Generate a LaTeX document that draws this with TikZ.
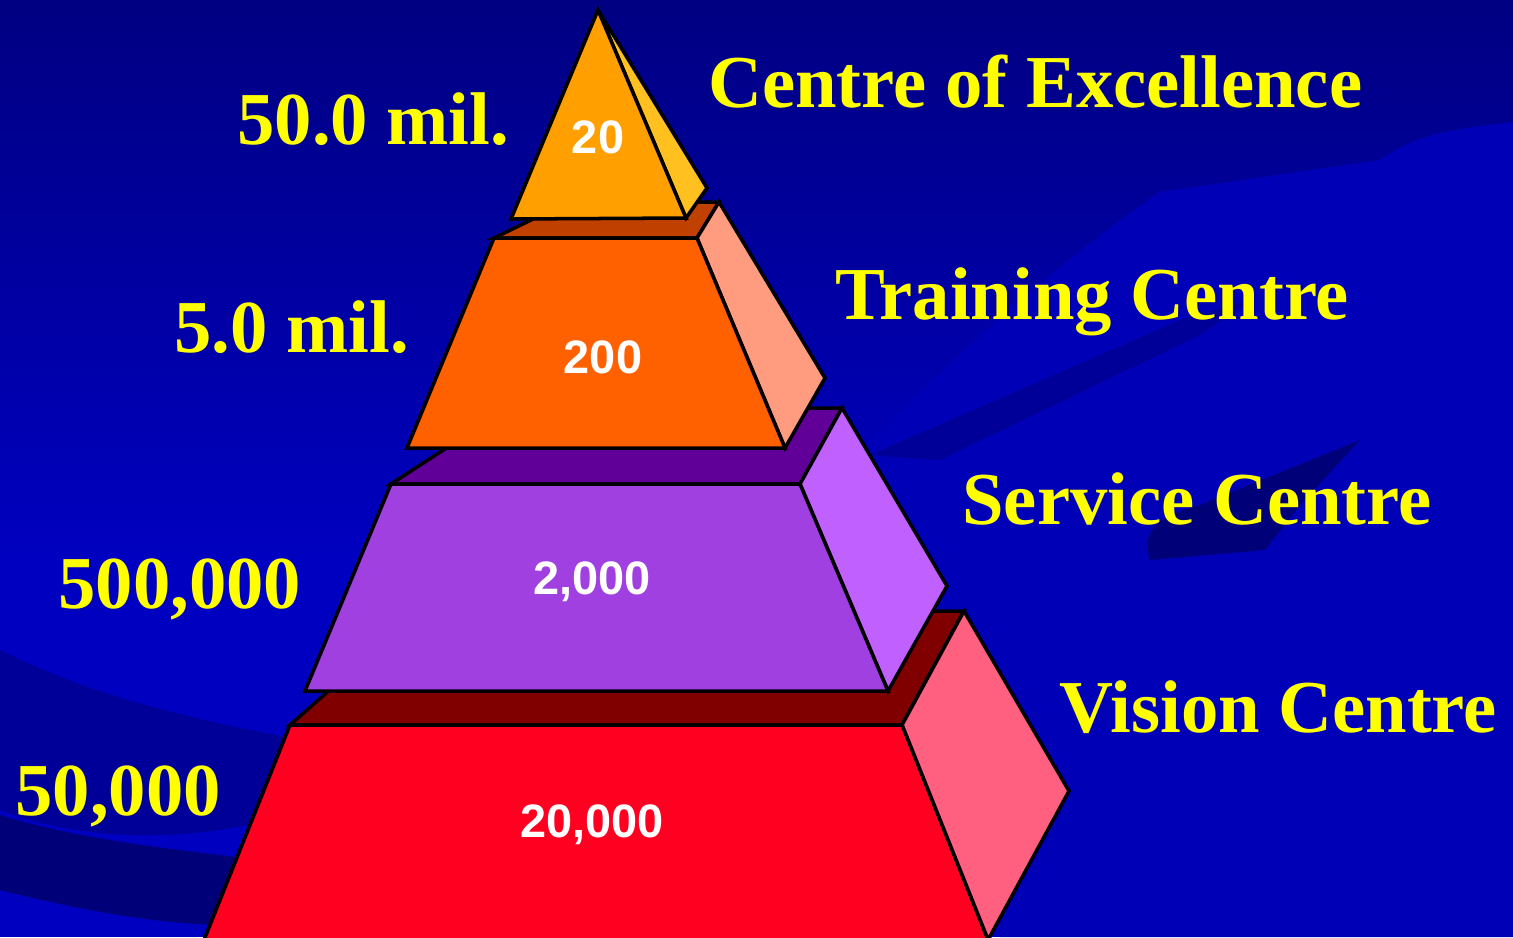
\documentclass[tikz,border=0pt]{standalone}
\usepackage{fontspec}
\setmainfont{Liberation Serif}
\newfontfamily\numfont{Liberation Sans}
\usepackage{xcolor}

\definecolor{bgtop}{HTML}{000082}
\definecolor{bgblue}{HTML}{0000C0}
\definecolor{bgshadow}{HTML}{000098}
\definecolor{bgdark}{HTML}{000078}
\definecolor{labelyellow}{HTML}{FFFF00}
\definecolor{apexfront}{HTML}{FFA000}
\definecolor{apexside}{HTML}{FFC020}
\definecolor{trainfront}{HTML}{FF6000}
\definecolor{trainside}{HTML}{FF9C80}
\definecolor{trainledge}{HTML}{C04000}
\definecolor{servfront}{HTML}{A040E0}
\definecolor{servside}{HTML}{C060FF}
\definecolor{servledge}{HTML}{600098}
\definecolor{visfront}{HTML}{FF0020}
\definecolor{visside}{HTML}{FF6080}
\definecolor{visledge}{HTML}{800000}

\begin{document}
\begin{tikzpicture}[x=0.02cm, y=-0.02cm,
  face/.style={draw=black, line width=2pt},
  costlabel/.style={text=labelyellow, font=\fontsize{42.5}{48}\selectfont\bfseries, anchor=base west, inner sep=0pt},
  centrelabel/.style={costlabel},
  countlabel/.style={text=white, font=\numfont\fontsize{26.7}{30}\selectfont\bfseries, anchor=base, inner sep=0pt}]
\useasboundingbox (0,0) rectangle (1513,937);
\clip (0,0) rectangle (1513,937);
% Draw the background
\shade[top color=bgtop, bottom color=bgblue] (0,0) rectangle (1513,560);
\fill[bgblue] (0,559) rectangle (1513,937);
\fill[bgblue!85!bgtop] (860,450) .. controls (950,360) and (1060,260) .. (1160,192)
  -- (1380,160) .. controls (1420,130) and (1470,128) .. (1513,122) -- (1513,937) -- (1000,937) -- cycle;
\fill[bgshadow] (870,455) -- (1180,320) -- (1250,300) -- (1200,335) -- (940,460) -- cycle;
\fill[bgdark] (1150,560) .. controls (1140,530) and (1160,515) .. (1200,505)
  -- (1360,440) -- (1300,505) -- (1265,550) -- cycle;
\fill[bgshadow] (0,650) .. controls (100,700) and (200,720) .. (300,740)
  -- (270,820) .. controls (150,850) and (50,830) .. (0,810) -- cycle;
\fill[bgdark] (0,815) .. controls (80,840) and (180,850) .. (260,860)
  -- (230,925) .. controls (150,925) and (60,905) .. (0,890) -- cycle;

% Draw the bottom tier (Vision Centre)
\draw[face, fill=visledge] (290,725) -- (902,725) -- (964,611) -- (419,611) -- cycle;
\draw[face, fill=visside] (902,725) -- (964,611) -- (1069,791) -- (988,940) -- cycle;
\draw[face, fill=visfront] (290,725) -- (902,725) -- (988,940) -- (204,940) -- cycle;
% Draw the third tier (Service Centre)
\draw[face, fill=servledge] (391,484) -- (800,484) -- (842,408) -- (508,408) -- cycle;
\draw[face, fill=servside] (800,484) -- (842,408) -- (947,586) -- (888,691) -- cycle;
\draw[face, fill=servfront] (391,484) -- (800,484) -- (888,691) -- (305,691) -- cycle;
% Draw the second tier (Training Centre)
\draw[face, fill=trainledge] (494,238) -- (697,238) -- (719,202) -- (568,202) -- cycle;
\draw[face, fill=trainside] (697,238) -- (719,202) -- (825,378) -- (785,448) -- cycle;
\draw[face, fill=trainfront] (494,238) -- (697,238) -- (785,448) -- (407,448) -- cycle;
% Draw the apex (Centre of Excellence)
\draw[face, fill=apexside] (598,10) -- (707,188) -- (686,218) -- cycle;
\draw[face, fill=apexfront] (598,10) -- (686,218) -- (511,219) -- cycle;

% Labels
\node[countlabel] (apexcount) at (598,153) {20};
\node[countlabel] (traincount) at (603,373) {200};
\node[countlabel] (servcount) at (592,594) {2,000};
\node[countlabel] (viscount) at (592,837) {20,000};
\node[centrelabel] (apexname) at (708,107) {Centre of Excellence};
\node[centrelabel] (trainname) at (835,319) {Training Centre};
\node[centrelabel] (servname) at (962,524) {Service Centre};
\node[centrelabel] (visname) at (1059,732) {Vision Centre};
\node[costlabel] (apexcost) at (237,144) {50.0 mil.};
\node[costlabel] (traincost) at (174,352) {5.0 mil.};
\node[costlabel] (servcost) at (58,608) {500,000};
\node[costlabel] (viscost) at (15,815) {50,000};
\end{tikzpicture}
\end{document}
